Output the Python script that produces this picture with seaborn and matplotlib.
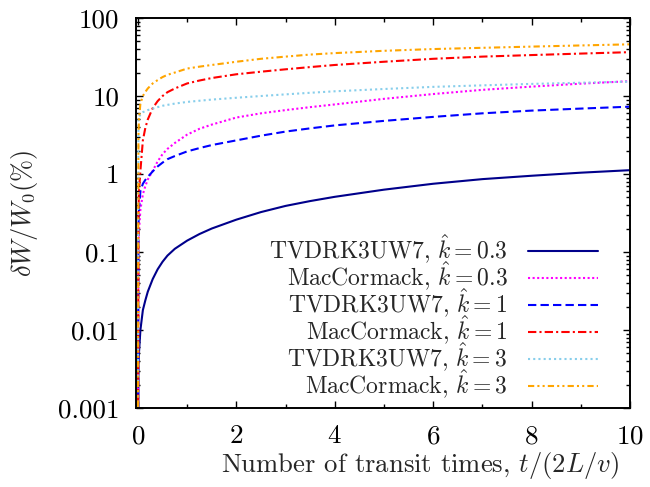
"""
Energy error vs number of transit times, log scale, gnuplot-like look
"""

import pandas as pd
import matplotlib
matplotlib.use("Agg")
import matplotlib.pyplot as plt
import seaborn as sns
from matplotlib.ticker import MultipleLocator, LogLocator, NullFormatter

# transit times (t = 0 is "zero error", drawn below the axis)
t = [0, 0.01, 0.02, 0.05, 0.1, 0.15, 0.2, 0.3, 0.4, 0.5, 0.6, 0.75, 1, 1.25, 1.5, 2,
     2.5, 3, 3.5, 4, 5, 6, 7, 8, 9, 10]

tvd_k03 = [1e-4, 0.0035, 0.005, 0.01, 0.018, 0.024, 0.031, 0.045, 0.06, 0.075, 0.09, 0.11,
           0.14, 0.17, 0.2, 0.26, 0.325, 0.39, 0.45, 0.51, 0.63, 0.75, 0.86, 0.95, 1.04, 1.12]
mac_k03 = [1e-4, 0.1, 0.18, 0.35, 0.55, 0.7, 0.85, 1.1, 1.45, 1.8, 2.1, 2.5,
           3.2, 3.8, 4.3, 5.3, 6.0, 6.6, 7.2, 7.8, 9.2, 10.6, 12.0, 13.2, 14.4, 15.5]
tvd_k1 = [1e-4, 0.2, 0.35, 0.6, 0.75, 0.84, 0.92, 1.08, 1.25, 1.4, 1.55, 1.7,
          1.95, 2.15, 2.35, 2.7, 3.1, 3.5, 3.85, 4.2, 4.8, 5.4, 6.0, 6.5, 6.9, 7.3]
mac_k1 = [1e-4, 0.3, 0.6, 1.1, 2.7, 3.9, 5.0, 7.0, 8.6, 10, 11.2, 12.5,
          14.5, 15.8, 17, 19, 20.5, 22, 23.5, 25, 27.5, 30, 32, 33.5, 35, 36.5]
tvd_k3 = [1e-4, 5.0, 5.4, 5.8, 6.2, 6.4, 6.6, 6.9, 7.2, 7.5, 7.7, 8.0,
          8.4, 8.7, 9.0, 9.5, 10.0, 10.5, 11.0, 11.5, 12.3, 13.1, 13.7, 14.3, 14.8, 15.3]
mac_k3 = [1e-4, 3, 5, 8, 10, 11.3, 12.5, 14.5, 16, 17.5, 18.7, 20,
          22.5, 23.8, 25, 27.5, 30, 32, 34, 35.5, 38, 40, 41.5, 43, 44.5, 46]

labels = [r"TVDRK3UW7, $\hat{k}=0.3$", r"MacCormack, $\hat{k}=0.3$",
          r"TVDRK3UW7, $\hat{k}=1$", r"MacCormack, $\hat{k}=1$",
          r"TVDRK3UW7, $\hat{k}=3$", r"MacCormack, $\hat{k}=3$"]
series = [tvd_k03, mac_k03, tvd_k1, mac_k1, tvd_k3, mac_k3]

colors = ["#00008b", "#ff00ff", "#0000ff", "#ff0000", "#87ceeb", "#ffa500"]
dash_list = ["", (1, 1.2), (4, 2), (4, 1.5, 1, 1.5), (1, 1.5), (3, 1.5, 1, 1.5, 1, 1.5)]

rows = []
for lab, vals in zip(labels, series):
    for x, y in zip(t, vals):
        rows.append({"t": x, "dW": y, "series": lab})
df = pd.DataFrame(rows)

sns.set_style("ticks")
plt.rcParams["font.family"] = ["cmr10", "DejaVu Serif"]
plt.rcParams["mathtext.fontset"] = "cm"
plt.rcParams["axes.formatter.use_mathtext"] = True
plt.rcParams["axes.unicode_minus"] = False

fig = plt.figure(figsize=(6.5, 4.87), dpi=100)
ax = fig.add_axes([0.2092, 0.1622, 0.76, 0.8008])
ax.set_yscale("log")

sns.lineplot(data=df, x="t", y="dW", hue="series", style="series",
             palette=dict(zip(labels, colors)), dashes=dict(zip(labels, dash_list)),
             hue_order=labels, style_order=labels, linewidth=1.5, ax=ax, sort=False)

ax.set_xlim(-0.04, 10)
ax.set_ylim(0.001, 100)

ax.xaxis.set_major_locator(MultipleLocator(2))
ax.xaxis.set_minor_locator(MultipleLocator(1))
ax.set_yticks([0.001, 0.01, 0.1, 1, 10, 100], ["0.001", "0.01", "0.1", "1", "10", "100"])
ax.yaxis.set_minor_locator(LogLocator(base=10, subs=range(2, 10)))
ax.yaxis.set_minor_formatter(NullFormatter())

ax.tick_params(which="both", direction="in", top=True, right=True, width=1.0,
               colors="black", labelsize=19.5)
ax.tick_params(which="major", length=5, pad=12)
ax.tick_params(which="minor", length=2.7)
for sp in ax.spines.values():
    sp.set_linewidth(1.4)
    sp.set_color("black")

ax.set_xlabel(r"Number of transit times, $t/(2L/v)$", fontsize=19.2)
ax.xaxis.set_label_coords(0.575, -0.148)
ax.xaxis.label.set_va("center")
ax.set_ylabel(r"$\delta W/W_0(\%)$", fontsize=19)
ax.yaxis.set_label_coords(-0.225, 0.5)
ax.yaxis.label.set_va("center")

ax.legend(loc="lower right", bbox_to_anchor=(0.96, -0.013), frameon=False,
          markerfirst=False, fontsize=17, handlelength=3.0, handletextpad=0.85,
          labelspacing=-0.265, borderpad=0)

fig.savefig("out.png", dpi=100)
